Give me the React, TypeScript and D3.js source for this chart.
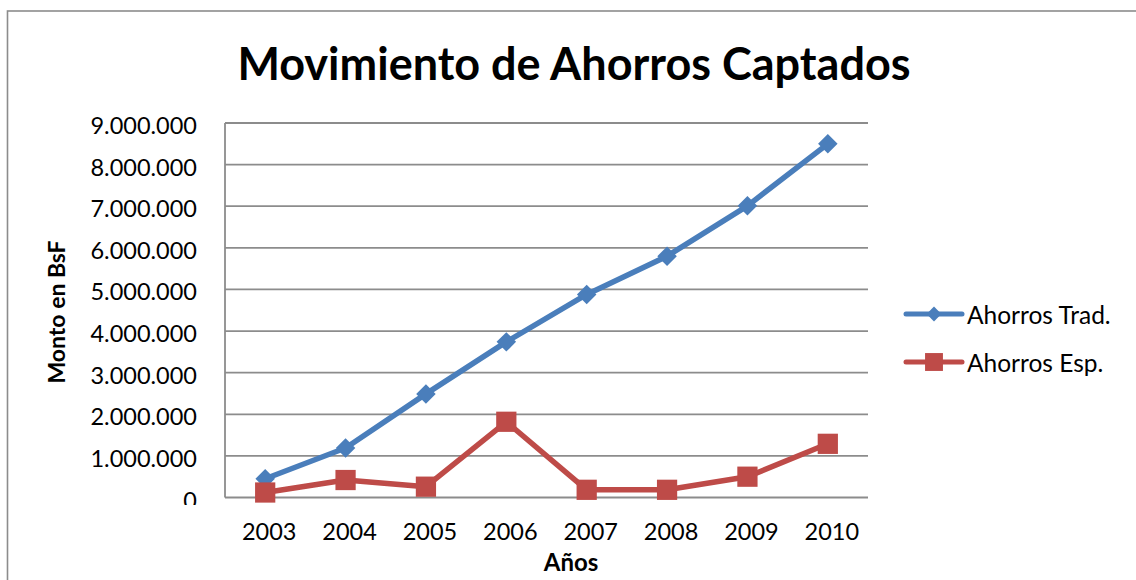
import React, { useEffect, useRef } from "react";
import * as d3 from "d3";

// values
const years = ["2003", "2004", "2005", "2006", "2007", "2008", "2009", "2010"];
const ahorrosTrad = [450000, 1190000, 2490000, 3740000, 4880000, 5800000, 7010000, 8500000];
const ahorrosEsp = [120000, 420000, 260000, 1820000, 185000, 185000, 500000, 1290000];
const yTicks = [0, 1000000, 2000000, 3000000, 4000000, 5000000, 6000000, 7000000, 8000000, 9000000];
const seriesNames = ["Ahorros Trad.", "Ahorros Esp."];

const W = 1136;
const H = 580;
const FONT = "Lato, 'Open Sans', sans-serif";
const BLUE = "#4A7EBB";
const RED = "#BE4B48";
const GRID = "#8C8C8C";

const locale = d3.formatLocale({ decimal: ",", thousands: ".", grouping: [3], currency: ["", ""] });
const fmt = locale.format(",");

export default function App() {
  const ref = useRef<SVGSVGElement>(null);

  useEffect(() => {
    const svg = d3.select(ref.current);
    svg.selectAll("*").remove();

    const x = d3.scaleBand<string>().domain(years).range([225, 868]);
    const y = d3.scaleLinear().domain([0, 9000000]).range([497.5, 123]);
    const cx = (d: string) => (x(d) as number) + x.bandwidth() / 2;

    // outer chart frame (cut by the picture on the right and bottom)
    svg.append("rect")
      .attr("x", 7.5).attr("y", 11)
      .attr("width", 1300).attr("height", 800)
      .attr("fill", "white")
      .attr("stroke", GRID)
      .attr("stroke-width", 1.6);

    // title
    svg.append("text")
      .attr("x", 574).attr("y", 80)
      .attr("text-anchor", "middle")
      .attr("font-family", FONT)
      .attr("font-weight", 700)
      .attr("font-size", 45)
      .attr("fill", "#000")
      .text("Movimiento de Ahorros Captados");

    // gridlines
    svg.append("g")
      .selectAll("line")
      .data(yTicks.slice(1))
      .enter()
      .append("line")
      .attr("x1", 225).attr("x2", 868)
      .attr("y1", d => y(d)).attr("y2", d => y(d))
      .attr("stroke", GRID)
      .attr("stroke-width", 1.8);

    // axis lines
    svg.append("line")
      .attr("x1", 225).attr("x2", 868)
      .attr("y1", y(0)).attr("y2", y(0))
      .attr("stroke", GRID).attr("stroke-width", 1.8);
    svg.append("line")
      .attr("x1", 225).attr("x2", 225)
      .attr("y1", y(9000000)).attr("y2", y(0))
      .attr("stroke", GRID).attr("stroke-width", 1.8);

    // y tick labels (the bottom one is clipped in the original)
    svg.append("clipPath").attr("id", "yclip")
      .append("rect").attr("x", 0).attr("y", 0).attr("width", 220).attr("height", 505);
    svg.append("g")
      .attr("clip-path", "url(#yclip)")
      .selectAll("text")
      .data(yTicks)
      .enter()
      .append("text")
      .attr("x", 197)
      .attr("y", d => y(d) + 11)
      .attr("text-anchor", "end")
      .attr("font-family", FONT)
      .attr("font-size", 23.5)
      .attr("fill", "#000")
      .text(d => fmt(d));

    // x tick labels
    svg.append("g")
      .selectAll("text")
      .data(years)
      .enter()
      .append("text")
      .attr("x", d => cx(d) + 4)
      .attr("y", 540)
      .attr("text-anchor", "middle")
      .attr("font-family", FONT)
      .attr("font-size", 23.5)
      .attr("fill", "#000")
      .text(d => d);

    // axis titles
    svg.append("text")
      .attr("x", 571).attr("y", 571)
      .attr("text-anchor", "middle")
      .attr("font-family", FONT)
      .attr("font-weight", 700)
      .attr("font-size", 24)
      .text("Años");
    svg.append("text")
      .attr("transform", "translate(65,312) rotate(-90)")
      .attr("text-anchor", "middle")
      .attr("font-family", FONT)
      .attr("font-weight", 700)
      .attr("font-size", 23)
      .text("Monto en BsF");

    const line = d3.line<number>()
      .x((_, i) => cx(years[i]))
      .y(d => y(d));

    const diamond = d3.symbol().type(d3.symbolSquare).size(190);
    const square = d3.symbol().type(d3.symbolSquare).size(410);

    // series: Trad.
    svg.append("path")
      .attr("d", line(ahorrosTrad))
      .attr("fill", "none")
      .attr("stroke", BLUE)
      .attr("stroke-width", 5.5)
      .attr("stroke-linejoin", "round");
    svg.append("g")
      .selectAll("path")
      .data(ahorrosTrad)
      .enter()
      .append("path")
      .attr("d", diamond)
      .attr("transform", (d, i) => `translate(${cx(years[i])},${y(d)}) rotate(45)`)
      .attr("fill", BLUE);

    // series: Esp.
    svg.append("path")
      .attr("d", line(ahorrosEsp))
      .attr("fill", "none")
      .attr("stroke", RED)
      .attr("stroke-width", 5.5)
      .attr("stroke-linejoin", "round");
    svg.append("g")
      .selectAll("path")
      .data(ahorrosEsp)
      .enter()
      .append("path")
      .attr("d", square)
      .attr("transform", (d, i) => `translate(${cx(years[i])},${y(d)})`)
      .attr("fill", RED);

    // legend
    const legend = svg.append("g");
    const colors = [BLUE, RED];
    const legendY = [314, 362];
    seriesNames.forEach((name, i) => {
      const g = legend.append("g").attr("transform", `translate(0,${legendY[i]})`);
      g.append("line")
        .attr("x1", 906).attr("x2", 962)
        .attr("y1", 0).attr("y2", 0)
        .attr("stroke", colors[i])
        .attr("stroke-width", 5)
        .attr("stroke-linecap", "round");
      g.append("path")
        .attr("d", i === 0 ? d3.symbol().type(d3.symbolSquare).size(110)() : d3.symbol().type(d3.symbolSquare).size(320)())
        .attr("transform", i === 0 ? "translate(934,0) rotate(45)" : "translate(934,0)")
        .attr("fill", colors[i]);
      g.append("text")
        .attr("x", 967).attr("y", 9.5)
        .attr("font-family", FONT)
        .attr("font-size", 24.5)
        .attr("fill", "#000")
        .text(name);
    });
  }, []);

  return (
    <svg
      ref={ref}
      width={W}
      height={H}
      style={{ position: "absolute", left: 0, top: 0, display: "block", background: "white" }}
    />
  );
}
